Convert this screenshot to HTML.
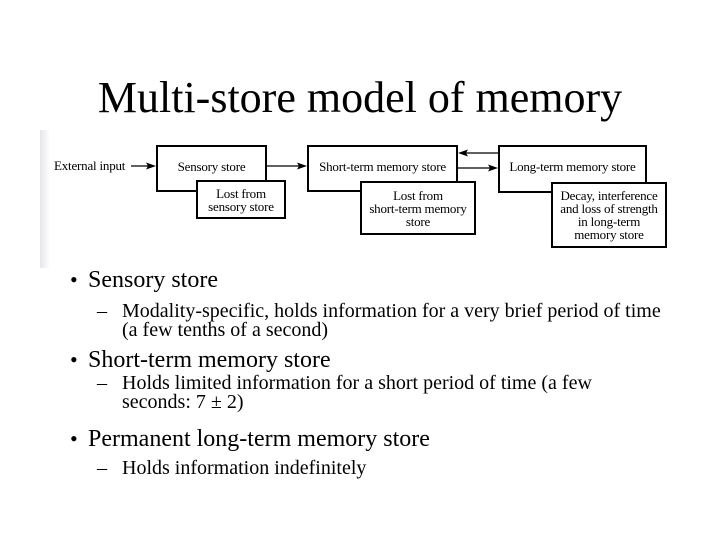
<!DOCTYPE html>
<html><head><meta charset="utf-8"><style>
body{margin:0;width:720px;height:540px;background:#fff;position:relative;overflow:hidden;font-family:"Liberation Serif",serif;color:#000}
.t{position:absolute;white-space:nowrap;line-height:1}
.b{position:absolute;border:2px solid #000;background:#fff;box-sizing:border-box;font-size:13px;text-align:center;line-height:13px;display:flex;align-items:center;justify-content:center;letter-spacing:-0.2px}
</style></head><body>
<div class="t" style="left:0;width:720px;text-align:center;top:76px;font-size:44px">Multi-store model of memory</div>

<div style="position:absolute;left:40px;top:130px;width:625px;height:138px;background:#fff"></div>
<div style="position:absolute;left:40px;top:130px;width:10px;height:138px;background:linear-gradient(to right,#e6e6ea,#fff)"></div>
<svg style="position:absolute;left:0;top:0" width="720" height="540">
<g stroke="#000" stroke-width="1.3" fill="none">
<line x1="131" y1="166" x2="150" y2="166"/>
<line x1="267" y1="166" x2="301" y2="166"/>
<line x1="458" y1="168" x2="492" y2="168"/>
<line x1="464" y1="153" x2="498" y2="153"/>
</g>
<g fill="#000">
<polygon points="156,166 146,162.5 148,166 146,169.5"/>
<polygon points="307,166 297,162.5 299,166 297,169.5"/>
<polygon points="498,168 488,164.5 490,168 488,171.5"/>
<polygon points="458,153 468,149.5 466,153 468,156.5"/>
</g>
</svg>
<div class="t" style="left:54px;top:159px;font-size:13px;letter-spacing:-0.2px">External input</div>
<div class="b" style="left:156px;top:145px;width:111px;height:47px;align-items:flex-start;padding-top:13px">Sensory store</div>
<div class="b" style="left:196px;top:180px;width:90px;height:39px">Lost from<br>sensory store</div>
<div class="b" style="left:307px;top:145px;width:151px;height:47px;align-items:flex-start;padding-top:13px">Short-term memory store</div>
<div class="b" style="left:360px;top:181px;width:116px;height:54px">Lost from<br>short-term memory<br>store</div>
<div class="b" style="left:498px;top:145px;width:149px;height:48px;align-items:flex-start;padding-top:13px">Long-term memory store</div>
<div class="b" style="left:551px;top:182px;width:116px;height:66px">Decay, interference<br>and loss of strength<br>in long-term<br>memory store</div>

<div class="t" style="left:70px;top:269px;font-size:22px">•</div>
<div class="t" style="left:88px;top:268px;font-size:24px">Sensory store</div>
<div class="t" style="left:97px;top:301px;font-size:20px">–</div>
<div class="t" style="left:122px;top:301px;font-size:20px">Modality-specific, holds information for a very brief period of time</div>
<div class="t" style="left:122px;top:320px;font-size:20px">(a few tenths of a second)</div>

<div class="t" style="left:70px;top:349px;font-size:22px">•</div>
<div class="t" style="left:88px;top:348px;font-size:24px">Short-term memory store</div>
<div class="t" style="left:97px;top:373px;font-size:20px">–</div>
<div class="t" style="left:122px;top:373px;font-size:20px">Holds limited information for a short period of time (a few</div>
<div class="t" style="left:122px;top:392px;font-size:20px">seconds: 7 ± 2)</div>

<div class="t" style="left:70px;top:428px;font-size:22px">•</div>
<div class="t" style="left:88px;top:427px;font-size:24px">Permanent long-term memory store</div>
<div class="t" style="left:97px;top:458px;font-size:20px">–</div>
<div class="t" style="left:122px;top:458px;font-size:20px">Holds information indefinitely</div>
</body></html>
